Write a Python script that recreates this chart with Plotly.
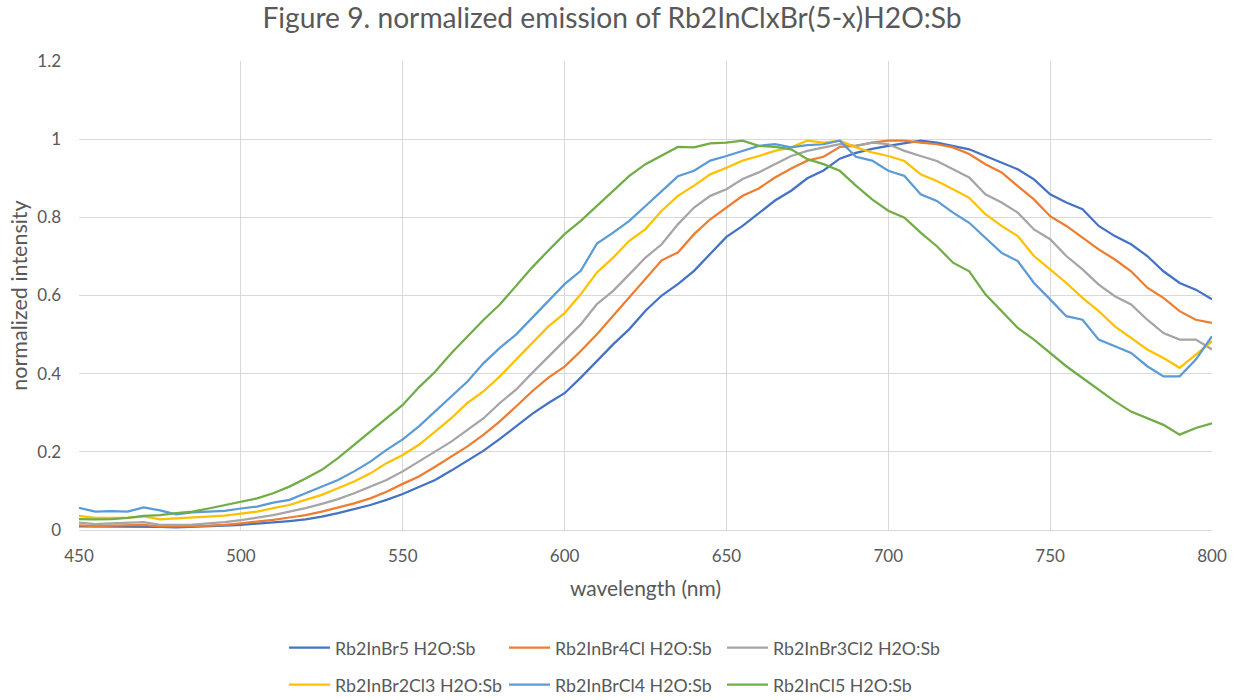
import plotly.graph_objects as go

wavelength = list(range(450, 801, 5))

rb2inbr5 = [0.009, 0.009, 0.008, 0.009, 0.009, 0.008, 0.007, 0.008, 0.009, 0.011,
            0.013, 0.016, 0.019, 0.023, 0.027, 0.034, 0.043, 0.053, 0.064, 0.077,
            0.092, 0.110, 0.128, 0.152, 0.177, 0.203, 0.233, 0.264, 0.297, 0.325,
            0.350, 0.390, 0.433, 0.475, 0.514, 0.561, 0.600, 0.629, 0.663, 0.706,
            0.750, 0.778, 0.810, 0.843, 0.868, 0.900, 0.920, 0.950, 0.965, 0.975,
            0.983, 0.990, 0.996, 0.991, 0.983, 0.974, 0.957, 0.940, 0.923, 0.897,
            0.859, 0.838, 0.821, 0.778, 0.752, 0.731, 0.701, 0.662, 0.632, 0.615,
            0.590]

rb2inbr4cl = [0.012, 0.010, 0.011, 0.012, 0.013, 0.009, 0.009, 0.010, 0.011, 0.013,
              0.017, 0.021, 0.026, 0.032, 0.038, 0.047, 0.057, 0.068, 0.081, 0.098,
              0.118, 0.137, 0.162, 0.188, 0.214, 0.244, 0.278, 0.316, 0.355, 0.390,
              0.418, 0.458, 0.501, 0.548, 0.595, 0.642, 0.690, 0.710, 0.757, 0.795,
              0.825, 0.855, 0.874, 0.902, 0.925, 0.945, 0.955, 0.980, 0.983, 0.991,
              0.996, 0.996, 0.991, 0.987, 0.979, 0.962, 0.936, 0.915, 0.880, 0.846,
              0.803, 0.778, 0.748, 0.718, 0.692, 0.662, 0.620, 0.594, 0.560, 0.538,
              0.530]

rb2inbr3cl2 = [0.019, 0.015, 0.017, 0.018, 0.020, 0.013, 0.013, 0.014, 0.017, 0.020,
               0.025, 0.032, 0.038, 0.047, 0.056, 0.067, 0.079, 0.094, 0.111, 0.128,
               0.150, 0.175, 0.200, 0.226, 0.256, 0.286, 0.325, 0.359, 0.402, 0.444,
               0.485, 0.526, 0.578, 0.612, 0.654, 0.697, 0.731, 0.782, 0.825, 0.855,
               0.872, 0.898, 0.915, 0.936, 0.957, 0.970, 0.979, 0.987, 0.983, 0.991,
               0.987, 0.970, 0.957, 0.944, 0.923, 0.902, 0.859, 0.838, 0.812, 0.769,
               0.744, 0.701, 0.667, 0.628, 0.598, 0.577, 0.538, 0.504, 0.487, 0.487,
               0.462]

rb2inbr2cl3 = [0.036, 0.031, 0.031, 0.031, 0.035, 0.027, 0.030, 0.032, 0.034, 0.037,
               0.042, 0.047, 0.056, 0.064, 0.077, 0.090, 0.107, 0.124, 0.145, 0.171,
               0.192, 0.218, 0.252, 0.286, 0.325, 0.355, 0.393, 0.436, 0.479, 0.521,
               0.555, 0.603, 0.659, 0.697, 0.740, 0.770, 0.817, 0.855, 0.881, 0.910,
               0.927, 0.945, 0.957, 0.970, 0.979, 0.996, 0.991, 0.996, 0.979, 0.966,
               0.957, 0.944, 0.910, 0.893, 0.872, 0.850, 0.808, 0.778, 0.752, 0.701,
               0.667, 0.632, 0.594, 0.560, 0.521, 0.491, 0.462, 0.440, 0.415, 0.449,
               0.483]

rb2inbrcl4 = [0.057, 0.047, 0.048, 0.047, 0.058, 0.050, 0.040, 0.045, 0.047, 0.049,
              0.055, 0.060, 0.070, 0.077, 0.094, 0.111, 0.128, 0.150, 0.175, 0.205,
              0.232, 0.265, 0.303, 0.342, 0.380, 0.427, 0.466, 0.500, 0.543, 0.585,
              0.629, 0.663, 0.733, 0.761, 0.791, 0.829, 0.868, 0.905, 0.919, 0.945,
              0.957, 0.970, 0.983, 0.987, 0.979, 0.985, 0.987, 0.996, 0.955, 0.945,
              0.919, 0.906, 0.859, 0.842, 0.812, 0.786, 0.748, 0.709, 0.688, 0.632,
              0.590, 0.547, 0.538, 0.487, 0.470, 0.453, 0.419, 0.393, 0.393, 0.436,
              0.496]

rb2incl5 = [0.028, 0.027, 0.028, 0.031, 0.036, 0.038, 0.043, 0.047, 0.055, 0.064,
            0.073, 0.081, 0.094, 0.111, 0.132, 0.154, 0.184, 0.218, 0.250, 0.284,
            0.320, 0.365, 0.405, 0.452, 0.496, 0.538, 0.577, 0.624, 0.672, 0.715,
            0.757, 0.791, 0.829, 0.868, 0.906, 0.936, 0.957, 0.980, 0.979, 0.989,
            0.991, 0.996, 0.983, 0.980, 0.974, 0.949, 0.936, 0.919, 0.881, 0.846,
            0.817, 0.799, 0.761, 0.726, 0.684, 0.662, 0.603, 0.560, 0.517, 0.487,
            0.453, 0.419, 0.389, 0.359, 0.329, 0.303, 0.286, 0.269, 0.244, 0.261,
            0.273]

series_names = ["Rb2InBr5 H2O:Sb", "Rb2InBr4Cl H2O:Sb", "Rb2InBr3Cl2 H2O:Sb",
                "Rb2InBr2Cl3 H2O:Sb", "Rb2InBrCl4 H2O:Sb", "Rb2InCl5 H2O:Sb"]
series_values = [rb2inbr5, rb2inbr4cl, rb2inbr3cl2, rb2inbr2cl3, rb2inbrcl4, rb2incl5]
colors = ["#4472C4", "#ED7D31", "#A5A5A5", "#FFC000", "#5B9BD5", "#70AD47"]

x_ticks = [450, 500, 550, 600, 650, 700, 750, 800]
y_ticks = [0, 0.2, 0.4, 0.6, 0.8, 1, 1.2]
y_tick_labels = ["0", "0.2", "0.4", "0.6", "0.8", "1", "1.2"]

FONT = "Lato, 'Open Sans', sans-serif"
TXT = "#595959"

W, H = 1239, 700
# legend grid: 3 columns x 2 rows (container coordinates)
legend_cols = [284 / W, 504 / W, 722 / W]
legend_rows = [1 - 648 / H, 1 - 685 / H]

fig = go.Figure()
legend_layouts = {}
for i, (name, vals, col) in enumerate(zip(series_names, series_values, colors)):
    lname = "legend" if i == 0 else f"legend{i + 1}"
    fig.add_trace(go.Scatter(
        x=wavelength, y=vals, name=name, mode="lines",
        line=dict(color=col, width=2.25),
        legend=lname,
    ))
    legend_layouts[lname] = dict(
        orientation="h", xref="container", yref="container",
        x=legend_cols[i % 3], xanchor="left",
        y=legend_rows[i // 3], yanchor="middle",
        font=dict(size=17.8, color=TXT, family=FONT), bgcolor="rgba(0,0,0,0)",
        itemwidth=41, borderwidth=0,
    )

fig.update_layout(
    width=W, height=H,
    paper_bgcolor="white", plot_bgcolor="white",
    margin=dict(l=79, r=27, t=61, b=170, autoexpand=False),
    font=dict(family=FONT, color=TXT, size=17),
    title=dict(text="Figure 9. normalized emission of Rb2InClxBr(5-x)H2O:Sb",
               x=612 / W, xanchor="center", y=1 - 18 / H, yanchor="middle",
               font=dict(size=28.2, color=TXT, family=FONT)),
    showlegend=True,
    **legend_layouts,
)

fig.update_xaxes(
    range=[450, 800], tickvals=x_ticks, ticktext=[str(v) for v in x_ticks],
    showgrid=True, gridcolor="#D9D9D9", gridwidth=1,
    showline=True, linecolor="#D9D9D9", linewidth=1,
    zeroline=False, ticks="", ticklabelstandoff=11, automargin=False,
    tickfont=dict(size=17, color=TXT),
    title=dict(text="wavelength (nm)", font=dict(size=21, color=TXT), standoff=15),
)
fig.update_yaxes(
    range=[0, 1.2], tickvals=y_ticks, ticktext=y_tick_labels,
    showgrid=True, gridcolor="#D9D9D9", gridwidth=1,
    zeroline=False, showline=False, ticks="", ticklabelstandoff=17, automargin=False,
    tickfont=dict(size=17, color=TXT),
    title=dict(text="normalized intensity", font=dict(size=21.5, color=TXT), standoff=3),
)

fig.write_html("out.html", config={"displayModeBar": False},
               post_script="document.body.style.margin='0px';")
